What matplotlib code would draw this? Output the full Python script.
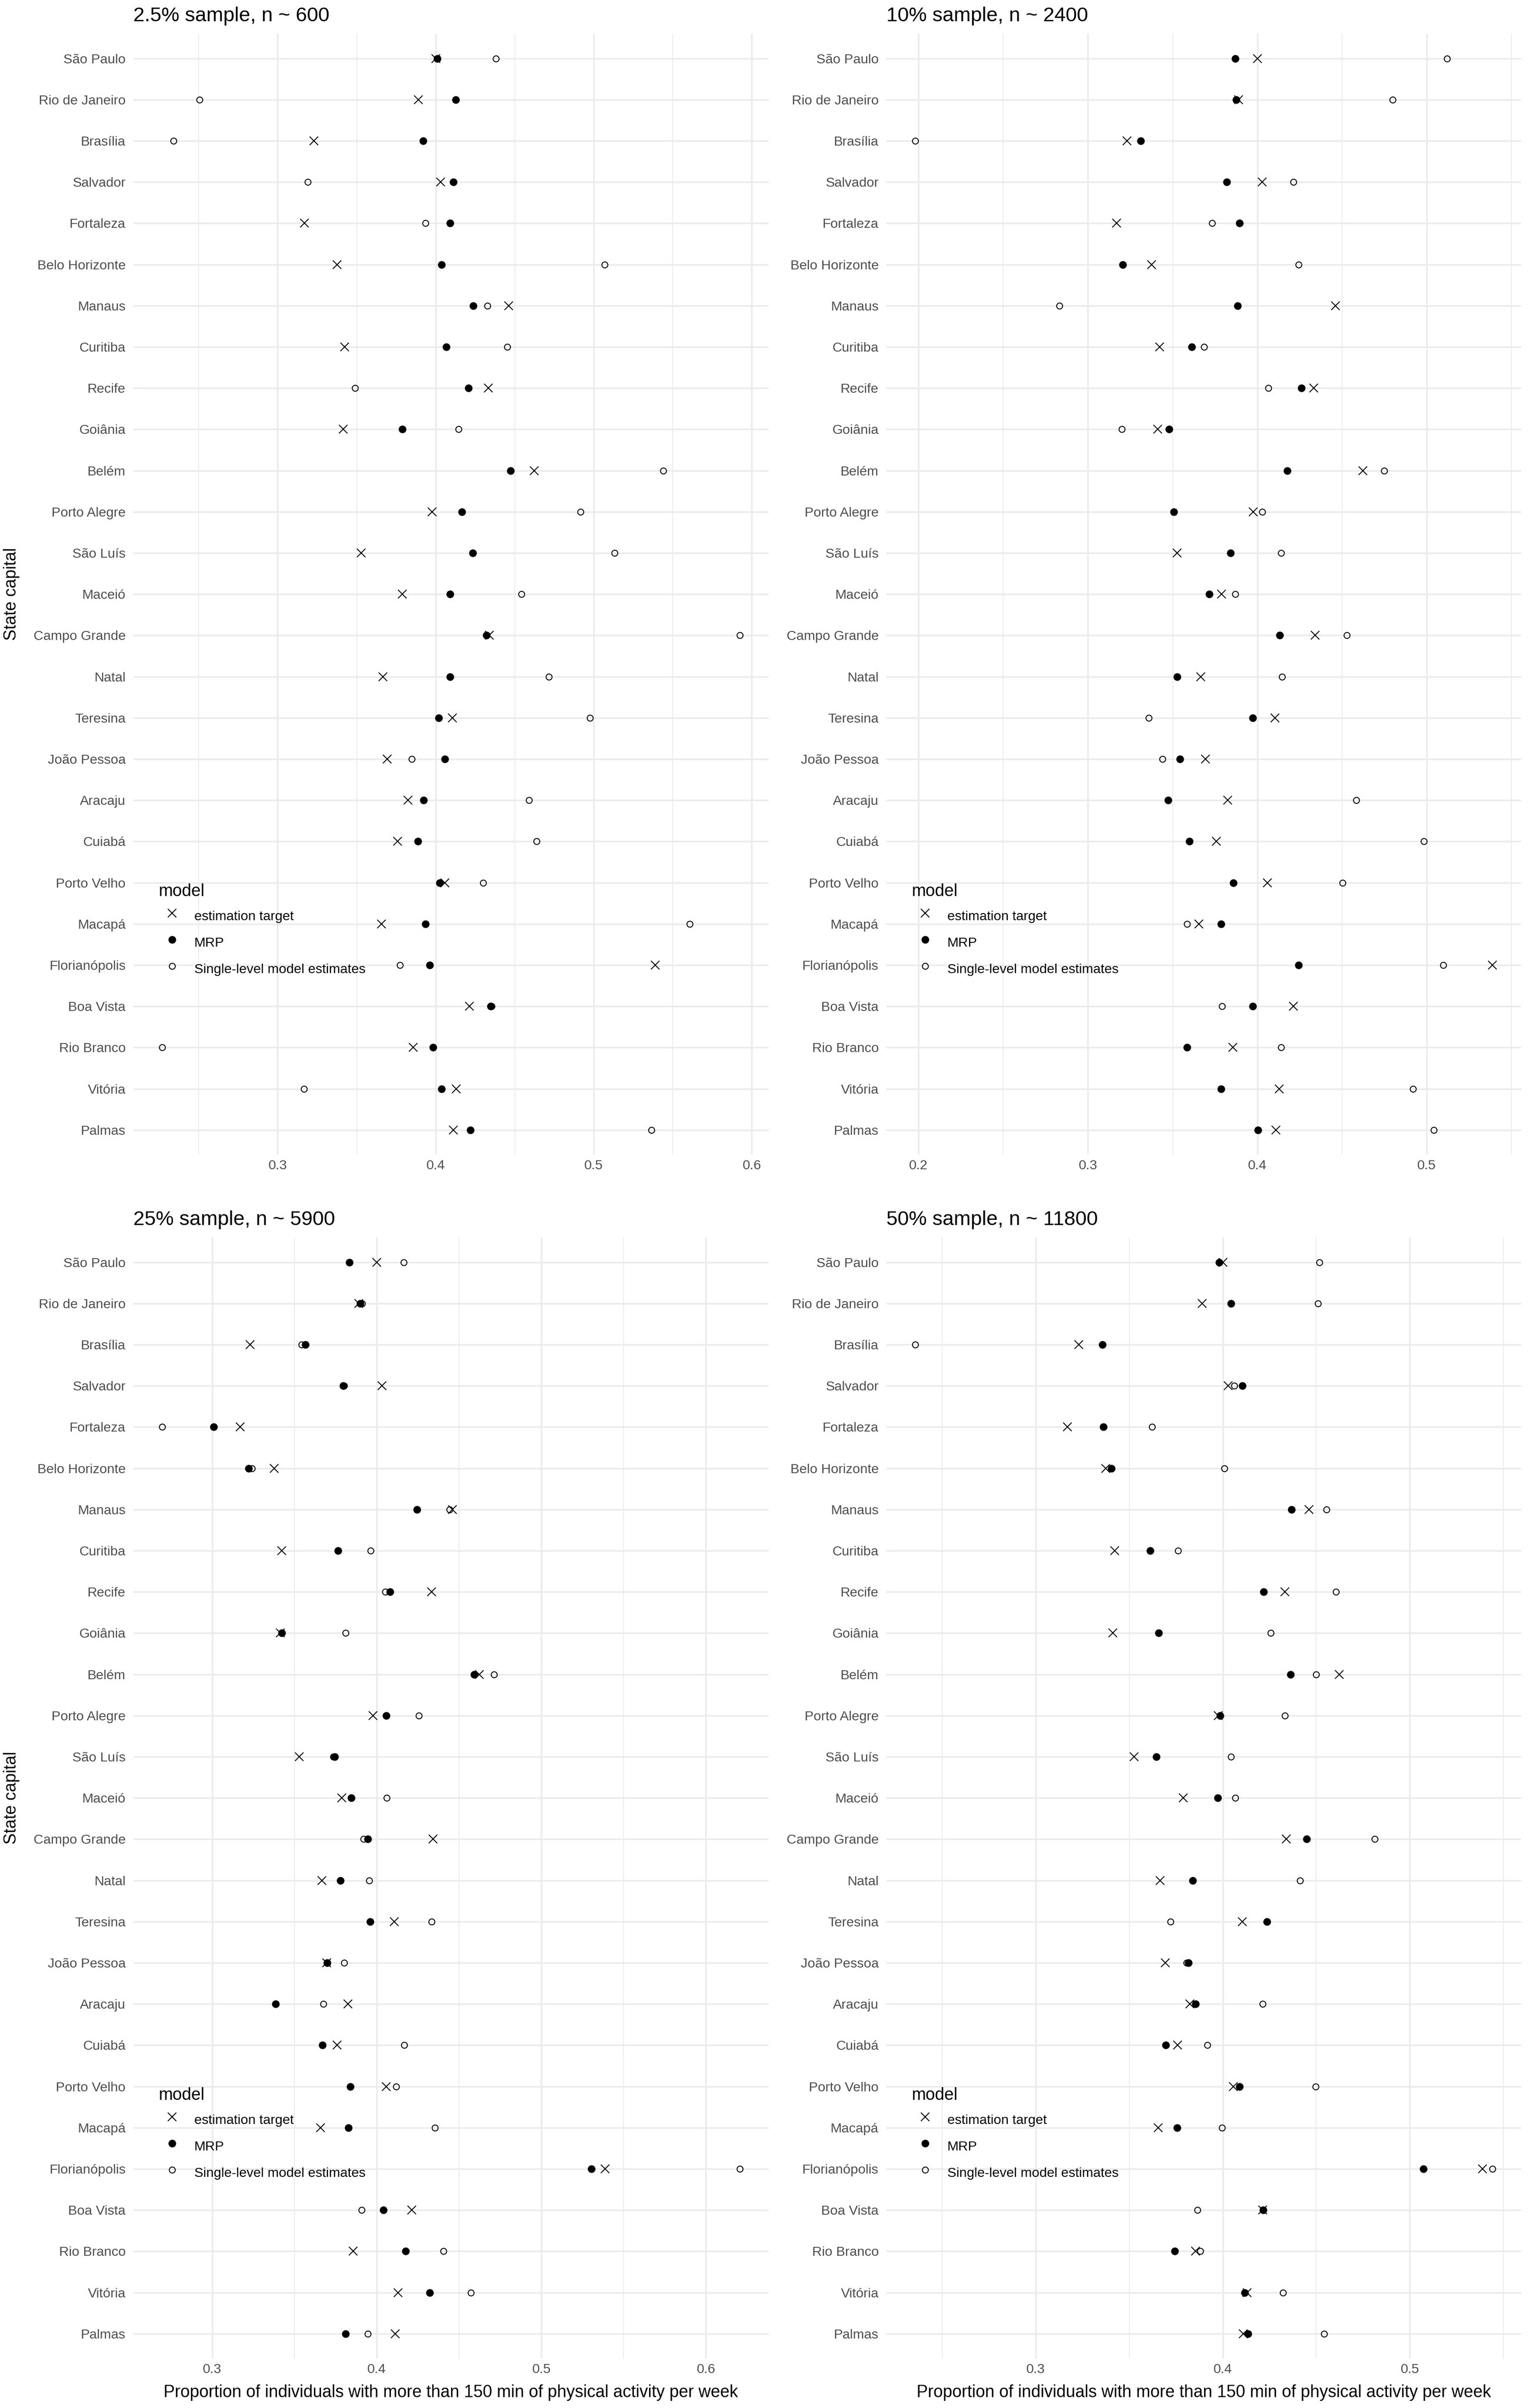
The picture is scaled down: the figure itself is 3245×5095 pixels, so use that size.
import matplotlib
matplotlib.use("Agg")
import matplotlib.pyplot as plt
from matplotlib.ticker import MultipleLocator, FuncFormatter

plt.rcParams['font.family'] = ['Liberation Sans', 'DejaVu Sans']

cities = ["São Paulo", "Rio de Janeiro", "Brasília", "Salvador", "Fortaleza",
          "Belo Horizonte", "Manaus", "Curitiba", "Recife", "Goiânia", "Belém",
          "Porto Alegre", "São Luís", "Maceió", "Campo Grande", "Natal", "Teresina",
          "João Pessoa", "Aracaju", "Cuiabá", "Porto Velho", "Macapá",
          "Florianópolis", "Boa Vista", "Rio Branco", "Vitória", "Palmas"]

# estimation target (same in every panel)
target = [0.400, 0.389, 0.323, 0.403, 0.317, 0.3375, 0.446, 0.3423, 0.4332,
          0.3413, 0.4623, 0.3977, 0.3527, 0.3788, 0.434, 0.3665, 0.4105, 0.3694,
          0.3825, 0.3758, 0.4058, 0.3656, 0.5388, 0.4213, 0.3856, 0.413, 0.411]

# 2.5% sample
mrp_025 = [0.401, 0.4126, 0.392, 0.411, 0.4089, 0.4036, 0.4238, 0.4067, 0.4207,
           0.3787, 0.4474, 0.4166, 0.4235, 0.4089, 0.4322, 0.4089, 0.402, 0.4058,
           0.3924, 0.3886, 0.4026, 0.3936, 0.3961, 0.4347, 0.3983, 0.4036, 0.4219]
single_025 = [0.438, 0.2505, 0.234, 0.319, 0.3936, 0.5068, 0.4328, 0.4453, 0.3488,
              0.4145, 0.5439, 0.4916, 0.5131, 0.4543, 0.5924, 0.4717, 0.4975, 0.3849,
              0.4589, 0.4639, 0.43, 0.5607, 0.3774, 0.4355, 0.2269, 0.3165, 0.5364]

# 10% sample
mrp_10 = [0.387, 0.3875, 0.331, 0.382, 0.3896, 0.3206, 0.3884, 0.3614, 0.4261,
          0.3478, 0.4177, 0.3507, 0.3843, 0.3716, 0.4133, 0.3525, 0.3974, 0.3542,
          0.3472, 0.36, 0.3858, 0.3786, 0.4243, 0.3974, 0.3586, 0.3786, 0.4003]
single_10 = [0.5119, 0.48, 0.198, 0.4212, 0.3733, 0.4243, 0.2832, 0.3684, 0.4064,
             0.32, 0.4748, 0.4029, 0.4139, 0.387, 0.4528, 0.4145, 0.3359, 0.3441,
             0.4583, 0.4983, 0.4504, 0.3586, 0.5099, 0.3791, 0.4139, 0.4919, 0.5043]

# 25% sample
mrp_25 = [0.3834, 0.3899, 0.3565, 0.3795, 0.3009, 0.3221, 0.4243, 0.3765, 0.4079,
          0.3421, 0.459, 0.4058, 0.3744, 0.3843, 0.3944, 0.3777, 0.3959, 0.3699,
          0.3385, 0.3669, 0.3837, 0.3828, 0.5304, 0.404, 0.4174, 0.432, 0.381]
single_25 = [0.4162, 0.3911, 0.3541, 0.38, 0.2695, 0.3242, 0.4443, 0.3962, 0.4052,
             0.381, 0.4712, 0.4255, 0.3735, 0.4061, 0.392, 0.3953, 0.4333, 0.3801,
             0.3675, 0.4165, 0.4117, 0.4353, 0.6206, 0.3908, 0.4404, 0.4572, 0.3944]

# 50% sample
mrp_50 = [0.3982, 0.4045, 0.3357, 0.4105, 0.3362, 0.3404, 0.4367, 0.3612, 0.4218,
          0.3659, 0.4362, 0.3987, 0.3646, 0.3974, 0.4449, 0.384, 0.4236, 0.3816,
          0.3856, 0.3696, 0.4089, 0.3756, 0.5073, 0.4215, 0.3743, 0.4118, 0.4136]
single_50 = [0.4517, 0.4509, 0.2357, 0.4063, 0.3622, 0.401, 0.4554, 0.3761, 0.4604,
             0.4257, 0.4499, 0.4331, 0.4045, 0.4066, 0.4811, 0.4412, 0.3722, 0.3806,
             0.4213, 0.3919, 0.4496, 0.3997, 0.5441, 0.3866, 0.3879, 0.4323, 0.4541]

titles = ["2.5% sample, n ~ 600", "10% sample, n ~ 2400",
          "25% sample, n ~ 5900", "50% sample, n ~ 11800"]
mrps = [mrp_025, mrp_10, mrp_25, mrp_50]
singles = [single_025, single_10, single_25, single_50]

xlab = "Proportion of individuals with more than 150 min of physical activity per week"

W, H = 3245, 5095
dpi = 72 * 3.245
fig = plt.figure(figsize=(W / dpi, H / dpi), dpi=dpi)

# panel rects in figure fractions
lefts = [0.0869, 0.5778, 0.0869, 0.5778]
widths = [0.4142, 0.4139, 0.4142, 0.4139]
bottoms = [0.5205, 0.5205, 0.0206, 0.0206]
h = 0.4655

grid_col = '#EBEBEB'
txt_col = '#4D4D4D'

for i in range(4):
    ax = fig.add_axes([lefts[i], bottoms[i], widths[i], h])
    ax.plot(target, cities, ls='none', marker='x', ms=5.5, mew=0.6,
            color='black', label='estimation target')
    ax.plot(mrps[i], cities, ls='none', marker='o', ms=5, mew=0,
            color='black', label='MRP')
    ax.plot(singles[i], cities, ls='none', marker='o', ms=3.9, mew=0.6,
            mfc='none', mec='black', label='Single-level model estimates')

    ax.set_ylim(len(cities) - 0.4, -0.6)
    ax.margins(x=0.05)
    ax.xaxis.set_major_locator(MultipleLocator(0.1))
    ax.xaxis.set_minor_locator(MultipleLocator(0.05))
    ax.xaxis.set_major_formatter(FuncFormatter(lambda v, p: f"{v:g}"))

    for s in ax.spines.values():
        s.set_visible(False)
    ax.set_axisbelow(True)
    ax.grid(which='major', axis='both', color=grid_col, lw=1.07)
    ax.grid(which='minor', axis='x', color=grid_col, lw=0.53)
    ax.tick_params(which='both', length=0)
    ax.tick_params(axis='x', pad=3.3, labelsize=8.8, labelcolor=txt_col)
    ax.tick_params(axis='y', pad=5, labelsize=8.8, labelcolor=txt_col)

    ax.annotate(titles[i], xy=(0, 1), xycoords='axes fraction', xytext=(0, 11.4),
                textcoords='offset points', ha='left', va='center', fontsize=13.2)

    if i % 2 == 0:
        ax.set_ylabel("State capital", fontsize=11)
        ax.yaxis.set_label_coords(-0.1786, 0.5)
    if i >= 2:
        ax.set_xlabel(xlab, fontsize=11, labelpad=5.5)

    leg = ax.legend(loc='upper left', bbox_to_anchor=(0.040, 0.242), frameon=False,
                    title='model', title_fontsize=11, fontsize=8.8, alignment='left',
                    borderpad=0, borderaxespad=0, handlelength=1.96, handleheight=1.96,
                    handletextpad=0.66, labelspacing=0.44)

fig.savefig("out.png", dpi=dpi, facecolor='white')
